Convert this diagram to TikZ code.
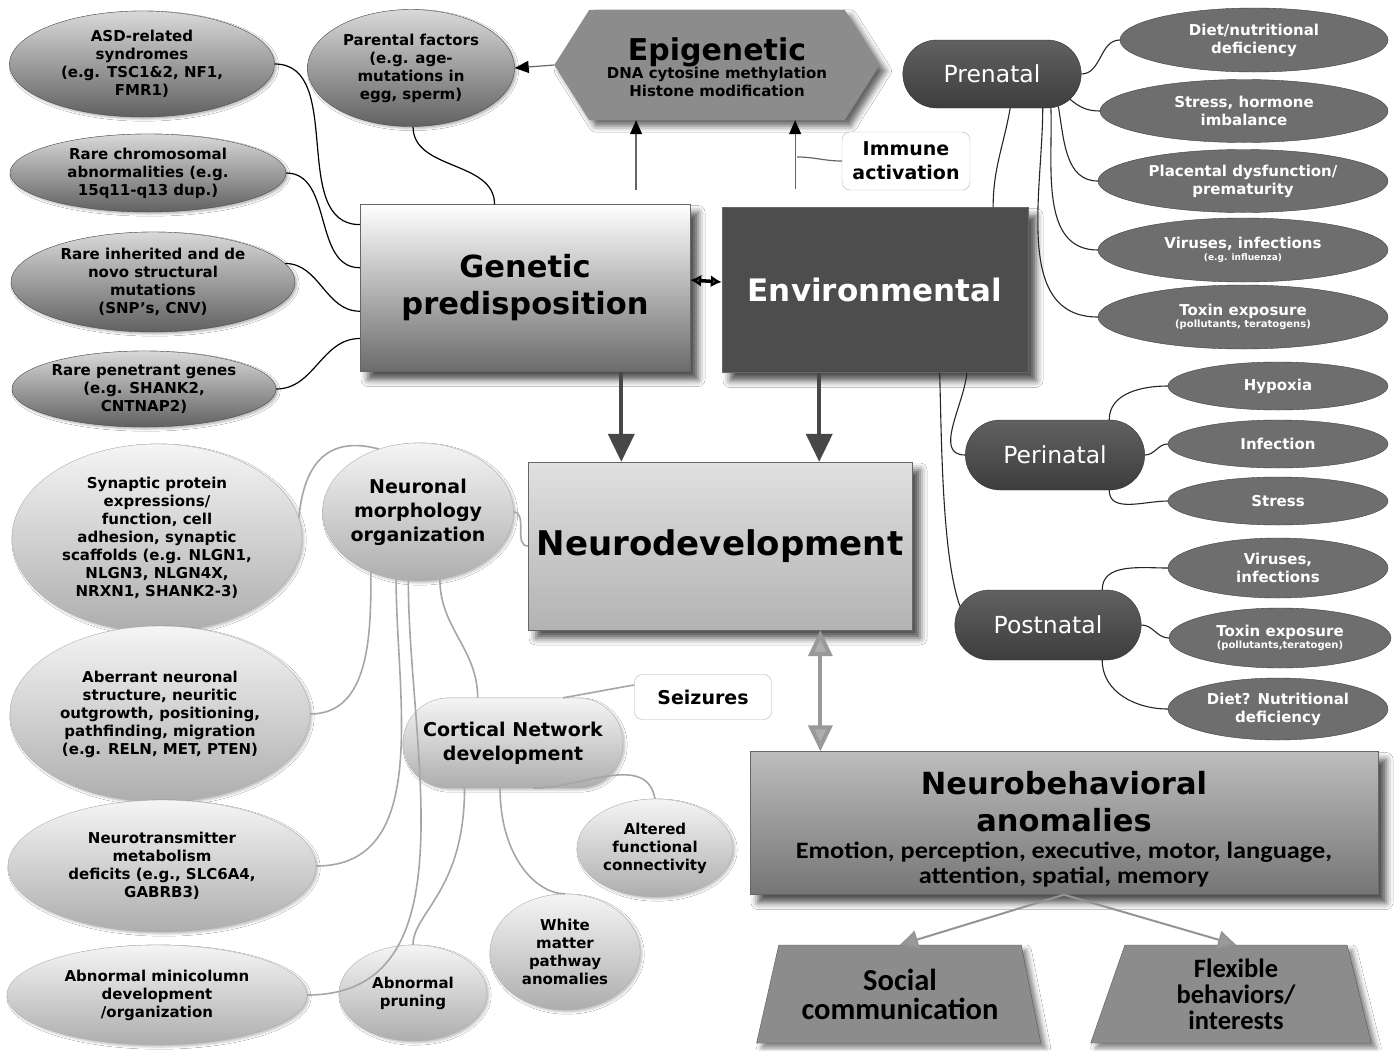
\documentclass[tikz,border=0pt]{standalone}
\usepackage{fontspec}
\setmainfont{DejaVu Sans}
\newfontfamily\calfont{Carlito}
\newfontfamily\calwide{Carlito}[FakeStretch=1.12]
\usetikzlibrary{shapes.geometric,shapes.misc,arrows.meta,shadows.blur}

\definecolor{envdark}{HTML}{4D4D4D}
\definecolor{outdark}{HTML}{6E6E6E}

\tikzset{
  gene/.style={ellipse, draw=black!70, top color=black!15, bottom color=black!62, inner sep=0pt, align=center,
    blur shadow={shadow xshift=2pt, shadow yshift=-2pt, shadow opacity=30},
    font=\bfseries\fontsize{15}{18}\selectfont},
  outx/.style={ellipse, draw=black!75, fill=outdark, text=white, inner sep=0pt, align=center,
    font=\bfseries\fontsize{15}{18}\selectfont},
  neur/.style={ellipse, draw=black!30, top color=black!4, bottom color=black!32, inner sep=0pt, align=center,
    blur shadow={shadow xshift=2pt, shadow yshift=-2pt, shadow opacity=25},
    font=\bfseries\fontsize{15}{18}\selectfont},
  phase/.style={rounded rectangle, draw=black!80, top color=black!62, bottom color=black!76, text=white,
    font=\fontsize{23.5}{26}\selectfont},
  note/.style={rectangle, rounded corners=8pt, draw=black!30, fill=white, align=center,
    font=\bfseries\fontsize{19}{24}\selectfont},
  bigbox/.style={rectangle, draw=black!60, align=center,
    blur shadow={shadow xshift=8pt, shadow yshift=-8pt, shadow blur radius=7pt, shadow opacity=70}},
  outcome/.style={trapezium, trapezium stretches=true, fill=black!45, draw=black!65, align=center,
    blur shadow={shadow xshift=5pt, shadow yshift=-5pt, shadow blur radius=5pt, shadow opacity=50}},
  glink/.style={black, line width=1.2pt},
  plink/.style={black!85, line width=1.1pt},
  nlink/.style={black!35, line width=1.6pt},
  dlink/.style={black!72, line width=4pt, -{Triangle[width=26pt,length=28pt]}},
}

\begin{document}
\begin{tikzpicture}[x=1pt,y=-1pt]
\fill[white] (0,0) rectangle (1397,1050);
\useasboundingbox (0,0) rectangle (1397,1050);

% genetic side
\node[gene, minimum width=265, minimum height=106] (asd) at (142,64) {ASD-related\\syndromes\\(e.g. TSC1\&2, NF1,\\FMR1)};
\node[gene, minimum width=276, minimum height=78] (chr) at (148,173) {Rare chromosomal\\abnormalities (e.g.\\15q11-q13 dup.)};
\node[gene, minimum width=284, minimum height=100] (inh) at (153,282) {Rare inherited and de\\novo structural\\mutations\\(SNP's, CNV)};
\node[gene, minimum width=264, minimum height=76] (pen) at (144,389) {Rare penetrant genes\\(e.g. SHANK2,\\CNTNAP2)};
\node[gene, minimum width=207, minimum height=117] (par) at (411,68) {Parental factors\\(e.g. age-\\mutations in\\egg, sperm)};

% epigenetic
\node[minimum width=325, minimum height=110] (epi) at (717,65) {};
\fill[black!45, blur shadow={shadow xshift=6pt, shadow yshift=-6pt, shadow blur radius=6pt, shadow opacity=60}]
  (epi.west) -- ([xshift=35pt]epi.north west) -- ([xshift=-35pt]epi.north east) -- (epi.east)
  -- ([xshift=-35pt]epi.south east) -- ([xshift=35pt]epi.south west) -- cycle;
\node[align=center, font=\bfseries\fontsize{15}{18}\selectfont] (epit) at (717,67)
  {{\fontsize{30}{30}\selectfont Epigenetic}\\DNA cytosine methylation\\Histone modification};

% main boxes
\node[bigbox, top color=white, bottom color=black!58, minimum width=330, minimum height=167,
  font=\bfseries\fontsize{30.5}{37}\selectfont] (gen) at (525,288) {Genetic\\predisposition};
\node[bigbox, fill=envdark, text=white, minimum width=306, minimum height=165,
  font=\bfseries\fontsize{31}{36}\selectfont] (env) at (875,290) {Environmental};
\node[bigbox, top color=black!12, bottom color=black!30, minimum width=384, minimum height=168,
  font=\bfseries\fontsize{34}{40}\selectfont] (nd) at (720,546) {Neurodevelopment};
\node[bigbox, top color=black!26, bottom color=black!54, minimum width=628, minimum height=143] (nb) at (1064,823) {};
\node[align=center, font=\bfseries\fontsize{30.5}{37}\selectfont] (nbt) at (1064,829)
  {Neurobehavioral\\anomalies\\[-10pt]{\calwide\fontsize{23.5}{24}\selectfont Emotion, perception, executive, motor, language,}\\[-12pt]{\calwide\fontsize{23.5}{24}\selectfont attention, spatial, memory}};

% environmental side
\node[phase, minimum width=185, minimum height=68] (pre) at (992,74) {Prenatal};
\node[phase, minimum width=186, minimum height=70] (peri) at (1055,455) {Perinatal};
\node[phase, minimum width=193, minimum height=70] (post) at (1048,625) {Postnatal};

\node[outx, minimum width=268, minimum height=64] (d1) at (1254,40) {Diet/nutritional\\deficiency};
\node[outx, minimum width=288, minimum height=63] (d2) at (1244,111) {Stress, hormone\\imbalance};
\node[outx, minimum width=290, minimum height=63] (d3) at (1243,181) {Placental dysfunction/\\prematurity};
\node[outx, minimum width=290, minimum height=64] (d4) at (1243,250) {Viruses, infections\\[-6pt]{\fontsize{9}{10}\selectfont (e.g. influenza)}};
\node[outx, minimum width=290, minimum height=64] (d5) at (1243,317) {Toxin exposure\\[-6pt]{\fontsize{10}{10}\selectfont (pollutants, teratogens)}};
\node[outx, minimum width=220, minimum height=48] (hyp) at (1278,386) {Hypoxia};
\node[outx, minimum width=220, minimum height=48] (inf) at (1278,444) {Infection};
\node[outx, minimum width=220, minimum height=48] (str) at (1278,501) {Stress};
\node[outx, minimum width=220, minimum height=60] (v2) at (1278,568) {Viruses,\\infections};
\node[outx, minimum width=222, minimum height=60] (t2) at (1280,638) {Toxin exposure\\[-6pt]{\fontsize{10}{10}\selectfont (pollutants,teratogen)}};
\node[outx, minimum width=220, minimum height=62] (d6) at (1278,709) {Diet? Nutritional\\deficiency};

\node[note, minimum width=128, minimum height=58] (imm) at (906,161) {Immune\\activation};

% neuronal side
\node[neur, minimum width=290, minimum height=188] (syn) at (157,538) {Synaptic protein\\expressions/\\function, cell\\adhesion, synaptic\\scaffolds (e.g. NLGN1,\\NLGN3, NLGN4X,\\NRXN1, SHANK2-3)};
\node[neur, minimum width=300, minimum height=176] (abe) at (160,714) {Aberrant neuronal\\structure, neuritic\\outgrowth, positioning,\\pathfinding, migration\\(e.g. RELN, MET, PTEN)};
\node[neur, minimum width=308, minimum height=132] (ntr) at (162,866) {Neurotransmitter\\metabolism\\deficits (e.g., SLC6A4,\\GABRB3)};
\node[neur, minimum width=300, minimum height=100] (mcol) at (157,995) {Abnormal minicolumn\\development\\/organization};
\node[neur, minimum width=186, minimum height=138, font=\bfseries\fontsize{19}{24}\selectfont] (neu) at (418,512) {Neuronal\\morphology\\organization};
\node[neur, rounded rectangle, minimum width=220, minimum height=90, font=\bfseries\fontsize{19}{24}\selectfont] (cor) at (513,743) {Cortical Network\\development};
\node[neur, minimum width=156, minimum height=98] (alt) at (655,848) {Altered\\functional\\connectivity};
\node[neur, minimum width=150, minimum height=116] (wm) at (565,952) {White\\matter\\pathway\\anomalies};
\node[neur, minimum width=148, minimum height=96] (pru) at (413,993) {Abnormal\\pruning};
\node[note, minimum width=137, minimum height=45] (sei) at (703,697) {Seizures};

% outcomes
\node[outcome, trapezium left angle=72, trapezium right angle=74, minimum width=285, minimum height=98,
  font=\calfont\bfseries\fontsize{30.5}{29}\selectfont] (soc) at (900,994) {Social\\communication};
\node[outcome, trapezium left angle=76, trapezium right angle=80, minimum width=281, minimum height=98,
  font=\calfont\bfseries\fontsize{26.5}{26}\selectfont] (flx) at (1236,994) {Flexible\\behaviors/\\interests};

% genetic links
\draw[glink] (asd.east) to[out=0,in=180] (gen.159);
\draw[glink] (chr.east) to[out=0,in=180] (gen.173);
\draw[glink] (inh.8) to[out=0,in=180] (gen.188);
\draw[glink] (pen.east) to[out=0,in=180] (gen.197);
\draw[glink] (par.-88) to[out=-90,in=90] (gen.110);

% epigenetic links
\coordinate (ia) at (797,157);
\draw[black!60, line width=1.2pt, shorten <=14pt, -{Triangle[width=12pt,length=14pt,black]}] (gen.37) -- (gen.37 |- epi.south);
\draw[black!60, line width=1.2pt, shorten <=18pt, -{Triangle[width=12pt,length=14pt,black]}] (env.134) -- (env.134 |- epi.south);
\draw[black!60, line width=1.2pt] (imm.west) to[out=180,in=0] (ia);
\draw[black!60, line width=1.2pt, -{Triangle[width=12pt,length=14pt,black]}] (epi.west) -- (par.east);
\draw[line width=3.5pt, {Latex[length=11pt,width=12pt]}-{Latex[length=11pt,width=12pt]}] ([yshift=8pt]gen.east) -- ([yshift=8pt]env.west);

% prenatal links
\draw[plink] (env.35) to[out=90,in=-100] (pre.-62);
\draw[plink] (pre.east) to[out=0,in=180] (d1.west);
\draw[plink] (pre.-18) to[out=-40,in=180] (d2.west);
\draw[plink] (pre.-26) to[out=-80,in=180] (d3.west);
\draw[plink] (pre.-30) to[out=-88,in=180] (d4.west);
\draw[plink] (pre.-34) to[out=-90,in=180] (d5.west);

% perinatal and postnatal links
\draw[plink] (env.-42) to[out=-95,in=180] (peri.west);
\draw[plink] (env.-52) to[out=-88,in=110,looseness=0.6] (post.168);
\draw[plink] (peri.33) to[out=90,in=180] (hyp.west);
\draw[plink] (peri.east) to[out=0,in=180] (inf.west);
\draw[plink] (peri.-33) to[out=-90,in=180] (str.west);
\draw[plink] (post.33) to[out=90,in=180] (v2.west);
\draw[plink] (post.east) to[out=0,in=180] (t2.west);
\draw[plink] (post.-33) to[out=-90,in=180] (d6.west);

% neuronal links
\draw[nlink] (neu.122) to[out=165,in=85,looseness=1.3] (syn.8);
\draw[nlink] (neu.-128) to[out=-90,in=0] (abe.east);
\draw[nlink] (neu.-108) to[out=-90,in=0] (ntr.east);
\draw[nlink] (neu.-98) to[out=-90,in=0] (mcol.east);
\draw[nlink] (neu.-72) to[out=-90,in=90] (cor.128);
\draw[nlink] (neu.east) to[out=0,in=180] (nd.west);
\draw[nlink] (cor.42) -- (sei.170);
\draw[nlink] (cor.-137) to[out=-90,in=90,out looseness=1.6,in looseness=0.5] (pru.north);
\draw[nlink] (cor.-106) to[out=-90,in=180,out looseness=1.4,in looseness=0.6] (wm.north);
\draw[nlink] (cor.-66) to[out=0,in=100] (alt.north);

% flow arrows
\draw[dlink] (gen.-41) -- (gen.-41 |- nd.north);
\draw[dlink] (env.-124) -- (env.-124 |- nd.north);
\draw[black!40, line width=4pt, {Triangle[width=24pt,length=26pt,fill=black!32]}-{Triangle[width=24pt,length=26pt,fill=black!32]}] (nd.-40) -- (nd.-40 |- nb.north);
\draw[black!42, line width=2pt, -{Triangle[width=18pt,length=18pt,fill=black!40]}] (nb.south) -- (soc.north);
\draw[black!42, line width=2pt, -{Triangle[width=18pt,length=18pt,fill=black!40]}] (nb.south) -- (flx.north);
\end{tikzpicture}
\end{document}
